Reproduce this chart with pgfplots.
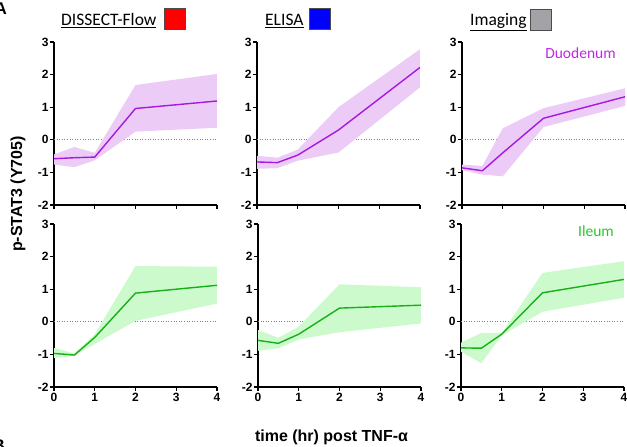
\documentclass[border=0pt]{standalone}
\usepackage{fontspec}
\setmainfont{Liberation Sans}
\newfontfamily\calfont{Carlito}
\usepackage{pgfplots}
\pgfplotsset{compat=1.18}
\definecolor{pline}{RGB}{165,25,225}
\definecolor{pband}{RGB}{236,204,246}
\definecolor{gline}{RGB}{25,175,25}
\definecolor{gband}{RGB}{204,250,204}
\definecolor{ptext}{RGB}{190,40,230}
\definecolor{gtext}{RGB}{40,200,40}
\pgfplotsset{
  panel/.style={
    scale only axis, width=163pt, height=163pt,
    xmin=0, xmax=4, ymin=-2, ymax=3,
    axis lines=left, axis line style={-, line width=1.4pt},
    xtick={0,1,2,3,4}, ytick={-2,-1,0,1,2,3},
    yticklabels={-2,-1,0,1,2,3},
    xticklabels={0,1,2,3,4},
    tick align=outside, major tick length=4pt,
    every tick/.style={black, line width=1.3pt},
    tick label style={font=\bfseries\fontsize{12}{14}\selectfont},
    yticklabel style={xshift=2pt},
    xticklabel style={yshift=1pt},
    clip=false,
    anchor=south west,
  },
  toprow/.style={panel, xticklabels={}},
  zero/.style={gray, dotted, line width=0.6pt},
}
\begin{document}
\begin{tikzpicture}[x=1pt,y=1pt]
\path[use as bounding box, clip] (0pt,0pt) rectangle (627pt,447pt);

% ---------- top row: Duodenum ----------
\begin{axis}[toprow, at={(54pt,242pt)}]
\addplot[zero] coordinates {(0,0) (4,0)};
\addplot[fill=pband, draw=none] coordinates {(0,-0.45) (0.5,-0.22) (1,-0.40) (2,1.68) (4,2.02) (4,0.37) (2,0.25) (1,-0.63) (0.5,-0.84) (0,-0.76)} -- cycle;
\addplot[pline, line width=1.4pt] coordinates {(0,-0.58) (0.5,-0.55) (1,-0.53) (2,0.96) (4,1.19)};
\end{axis}

\begin{axis}[toprow, at={(257pt,242pt)}]
\addplot[zero] coordinates {(0,0) (4,0)};
\addplot[fill=pband, draw=none] coordinates {(0,-0.49) (0.5,-0.55) (1,-0.30) (2,1.00) (4,2.78) (4,1.61) (2,-0.39) (1,-0.64) (0.5,-0.87) (0,-0.89)} -- cycle;
\addplot[pline, line width=1.4pt] coordinates {(0,-0.68) (0.5,-0.70) (1,-0.47) (2,0.30) (4,2.22)};
\end{axis}

\begin{axis}[toprow, at={(462pt,242pt)}]
\addplot[zero] coordinates {(0,0) (4,0)};
\addplot[fill=pband, draw=none] coordinates {(0,-0.76) (0.5,-0.80) (1,0.35) (2,0.97) (4,1.58) (4,1.04) (2,0.39) (1,-1.12) (0.5,-1.07) (0,-0.93)} -- cycle;
\addplot[pline, line width=1.4pt] coordinates {(0,-0.86) (0.5,-0.95) (1,-0.40) (2,0.66) (4,1.32)};
\end{axis}

% ---------- bottom row: Ileum ----------
\begin{axis}[panel, at={(54pt,60pt)}]
\addplot[zero] coordinates {(0,0) (4,0)};
\addplot[fill=gband, draw=none] coordinates {(0,-0.80) (0.5,-0.97) (1,-0.38) (2,1.71) (4,1.69) (4,0.56) (2,0.03) (1,-0.68) (0.5,-1.04) (0,-1.11)} -- cycle;
\addplot[gline, line width=1.4pt] coordinates {(0,-0.97) (0.5,-1.02) (1,-0.48) (2,0.88) (4,1.12)};
\end{axis}

\begin{axis}[panel, at={(258pt,60pt)}]
\addplot[zero] coordinates {(0,0) (4,0)};
\addplot[fill=gband, draw=none] coordinates {(0,-0.25) (0.5,-0.49) (1,-0.15) (2,1.15) (4,1.06) (4,-0.05) (2,-0.32) (1,-0.54) (0.5,-0.81) (0,-0.89)} -- cycle;
\addplot[gline, line width=1.4pt] coordinates {(0,-0.57) (0.5,-0.66) (1,-0.38) (2,0.42) (4,0.51)};
\end{axis}

\begin{axis}[panel, at={(461pt,60pt)}]
\addplot[zero] coordinates {(0,0) (4,0)};
\addplot[fill=gband, draw=none] coordinates {(0,-0.64) (0.5,-0.34) (1,-0.35) (2,1.50) (4,1.86) (4,0.74) (2,0.31) (1,-0.42) (0.5,-1.27) (0,-0.92)} -- cycle;
\addplot[gline, line width=1.4pt] coordinates {(0,-0.80) (0.5,-0.81) (1,-0.38) (2,0.89) (4,1.30)};
\end{axis}

% ---------- titles and labels ----------
\node[anchor=base west, inner sep=0pt, font=\calfont\fontsize{17.5}{20}\selectfont] at (61pt,421pt) {\underline{DISSECT-Flow}};
\node[draw=black!70, line width=0.8pt, fill=red, minimum size=21pt, inner sep=0pt] at (175pt,428.5pt) {};
\node[anchor=base west, inner sep=0pt, font=\calfont\fontsize{17.5}{20}\selectfont] at (265pt,421pt) {\underline{ELISA}};
\node[draw=black!70, line width=0.8pt, fill=blue, minimum size=21pt, inner sep=0pt] at (319.5pt,428pt) {};
\node[anchor=base west, inner sep=0pt, font=\calfont\fontsize{17.5}{20}\selectfont] at (470pt,421pt) {\underline{Imaging}};
\node[draw=black!70, line width=0.8pt, fill={rgb,255:red,163;green,163;blue,167}, minimum size=21pt, inner sep=0pt] at (541pt,427.5pt) {};

\node[anchor=base, inner sep=0pt, text=ptext, font=\calfont\fontsize{15.5}{18}\selectfont] at (580.5pt,388pt) {Duodenum};
\node[anchor=base, inner sep=0pt, text=gtext, font=\calfont\fontsize{15.5}{18}\selectfont] at (596pt,210pt) {Ileum};

\node[rotate=90, inner sep=0pt, font=\bfseries\fontsize{16}{18}\selectfont] at (18pt,253pt) {p-STAT3 (Y705)};
\node[anchor=base, inner sep=0pt, font=\bfseries\fontsize{16}{18}\selectfont] at (331.5pt,5pt) {time (hr) post TNF-α};

\node[anchor=base east, inner sep=0pt, font=\bfseries\fontsize{17}{20}\selectfont] at (7pt,432pt) {A};
\node[anchor=north east, inner sep=0pt, font=\bfseries\fontsize{17}{20}\selectfont] at (5pt,7pt) {B};
\end{tikzpicture}
\end{document}
